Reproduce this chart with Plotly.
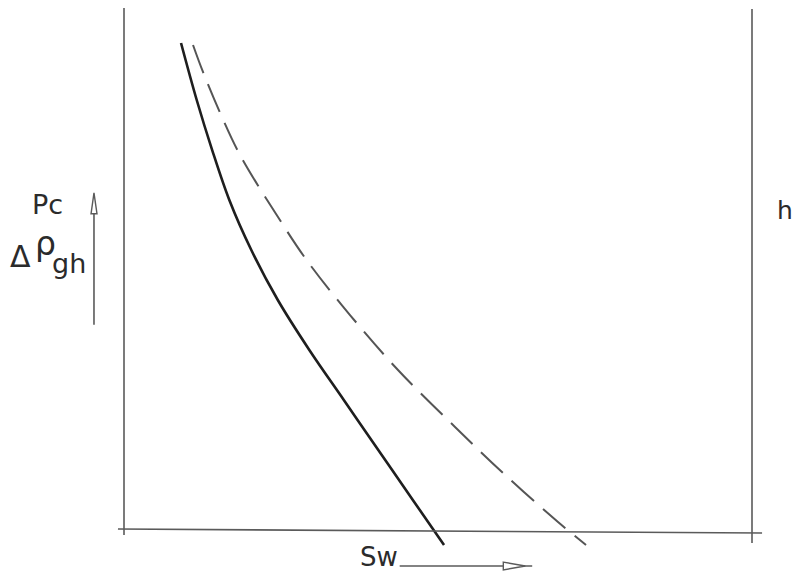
import plotly.graph_objects as go

# Drainage capillary-pressure curve (solid) and imbibition curve (dashed)
# Sw: water saturation (0 at left frame line, 1 at right frame line)
# h: height above the free-water level (0 at base line)
drain_sw = [0.0908, 0.1158, 0.1404, 0.1677, 0.2027, 0.2449, 0.2951, 0.3500, 0.4049, 0.4599, 0.5096]
drain_h = [0.9328, 0.8234, 0.7274, 0.6315, 0.5355, 0.4395, 0.3436, 0.2476, 0.1516, 0.0557, -0.0307]

imb_sw = [0.1099, 0.1258, 0.1545, 0.1847, 0.2452, 0.2930, 0.3599, 0.4363, 0.5271, 0.6035, 0.6911, 0.7357]
imb_h = [0.9290, 0.8772, 0.7946, 0.7179, 0.5988, 0.5125, 0.4107, 0.3052, 0.1958, 0.1075, 0.0134, -0.0307]

INK = "#2b2b2b"
FRAME = "#5a5a5a"
FONT = "DejaVu Sans"

fig = go.Figure()
fig.add_trace(go.Scatter(x=drain_sw, y=drain_h, mode="lines",
                         line=dict(color="#1e1e1e", width=2.6, shape="spline", smoothing=1.0),
                         hoverinfo="skip", showlegend=False))
fig.add_trace(go.Scatter(x=imb_sw, y=imb_h, mode="lines",
                         line=dict(color="#555555", width=2.0, dash="30px,12px",
                                   shape="spline", smoothing=1.0),
                         hoverinfo="skip", showlegend=False))

line = dict(color=FRAME, width=1.6)
# frame: left and right verticals, base line
fig.add_shape(type="line", x0=0, y0=1.0, x1=0, y1=-0.0115, line=line)
fig.add_shape(type="line", x0=1.0, y0=0.998, x1=1.0, y1=-0.027, line=line)
fig.add_shape(type="line", x0=-0.0096, y0=0, x1=1.016, y1=-0.0077, line=line)

# Pc arrow (upward)
fig.add_shape(type="line", x0=-0.0478, y0=0.392, x1=-0.0478, y1=0.605, line=line)
fig.add_shape(type="path", path="M -0.0525 0.605 L -0.0478 0.645 L -0.0430 0.605 Z",
              line=dict(color=FRAME, width=1.4), fillcolor="white")

# Sw arrow (rightward)
fig.add_shape(type="line", x0=0.439, y0=-0.071, x1=0.650, y1=-0.071, line=line)
fig.add_shape(type="path", path="M 0.604 -0.0635 L 0.639 -0.071 L 0.604 -0.0785 Z",
              line=dict(color=FRAME, width=1.4), fillcolor="white")

def label(text, x, y, size=25):
    fig.add_annotation(text=text, x=x, y=y, xref="x", yref="y", showarrow=False,
                       xanchor="center", yanchor="middle",
                       font=dict(family=FONT, size=size, color=INK))

label("Pc", -0.1226, 0.623, size=27)
label("Δ", -0.1650, 0.523, size=30)
label("ρ", -0.1250, 0.548, size=33)
label("gh", -0.0870, 0.510, size=27)
label("h", 1.052, 0.612)
label("Sw", 0.406, -0.054, size=26)

fig.update_layout(
    width=796, height=582,
    margin=dict(l=0, r=0, t=0, b=0),
    paper_bgcolor="white", plot_bgcolor="white",
    xaxis=dict(range=[-0.19745, 1.07006], visible=False, fixedrange=True),
    yaxis=dict(range=[-0.10173, 1.01536], visible=False, fixedrange=True),
)

fig.write_html("out.html")
